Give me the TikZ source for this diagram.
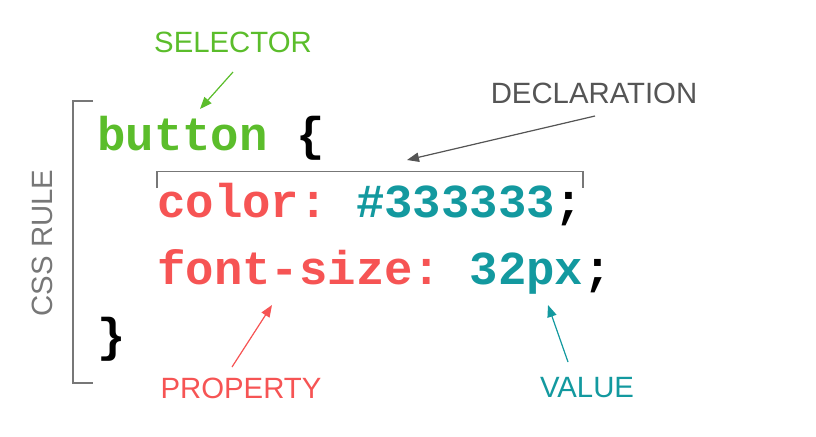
\documentclass[tikz,border=0pt]{standalone}
\usepackage{fontspec}
\setmainfont{Liberation Sans}
\newfontfamily\codefont{Liberation Mono}[BoldFont={* Bold}]
\usetikzlibrary{arrows.meta}
\definecolor{selgreen}{HTML}{5BBD2B}
\definecolor{propred}{HTML}{F65454}
\definecolor{valteal}{HTML}{13999F}
\definecolor{declgray}{HTML}{555555}
\definecolor{rulegray}{HTML}{777777}
\tikzset{
  code/.style={inner sep=0pt, anchor=base west, font=\codefont\bfseries\fontsize{35.5pt}{36pt}\selectfont},
  lbl/.style={inner sep=0pt, font=\fontsize{22pt}{24pt}\selectfont},
  pointer/.style={line width=0.9pt, -{Triangle[length=9pt,width=7pt]}},
  bracket/.style={line width=1.1pt, draw=rulegray}
}
\begin{document}
\begin{tikzpicture}[x=0.75pt,y=-0.75pt]
\useasboundingbox (0,0) rectangle (816,436);
% code
\node[code, text=selgreen] (sel) at (97,150) {button};
\node[code] (ob) at (295.8,150) {\{};
\node[code, text=propred] (p1) at (157,217) {color:};
\node[code, text=valteal] (v1) at (355.8,217) {\#333333};
\node[code] (s1) at (554.6,217) {;};
\node[code, text=propred] (p2) at (157,284) {font-size:};
\node[code, text=valteal] (v2) at (469.4,284) {32px};
\node[code] (s2) at (583,284) {;};
\node[code] (cb) at (97,351) {\}};
% brackets
\draw[bracket] (93,101) -- (73,101) -- (73,383) -- (93,383);
\draw[bracket] (157,188) -- (157,171.5) -- (583,171.5) -- (583,188);
% labels
\node[lbl, text=selgreen] (selL) at (233,42) {SELECTOR};
\node[lbl, text=declgray] (decL) at (594,93) {DECLARATION};
\node[lbl, text=propred] (propL) at (241,388) {PROPERTY};
\node[lbl, text=valteal] (valL) at (587,388) {VALUE};
\node[lbl, text=rulegray, rotate=90] (ruleL) at (42,243) {CSS RULE};
% pointers
\coordinate (selT) at (200,109);
\coordinate (decT) at (407,160);
\coordinate (propT) at (272,305);
\coordinate (valT) at (548,305);
\draw[pointer, draw=selgreen, fill=selgreen] (233,72) -- (selT);
\draw[pointer, draw=declgray, fill=declgray] (595,116) -- (decT);
\draw[pointer, draw=propred, fill=propred] (232,367) -- (propT);
\draw[pointer, draw=valteal, fill=valteal] (568,362) -- (valT);
\end{tikzpicture}
\end{document}
